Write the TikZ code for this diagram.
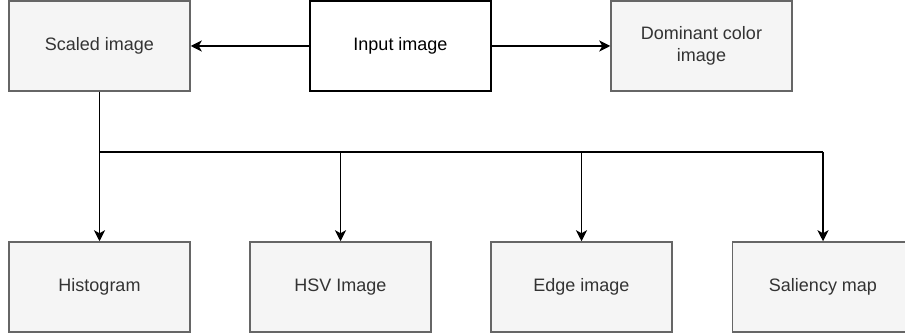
\documentclass[tikz,border=0pt]{standalone}
\usepackage{fontspec}
\setmainfont{Liberation Sans}
\usetikzlibrary{arrows.meta}
\definecolor{boxfill}{HTML}{F5F5F5}
\definecolor{boxline}{HTML}{666666}
\definecolor{boxtext}{HTML}{333333}
\begin{document}
\begin{tikzpicture}[x=1pt,y=-1pt,
  graybox/.style={draw=boxline,fill=boxfill,line width=1.5pt,minimum width=181pt,minimum height=90pt,inner sep=0pt,text=boxtext,font=\fontsize{18}{21.5}\selectfont,align=center},
  whitebox/.style={draw=black,fill=white,line width=1.5pt,minimum width=181pt,minimum height=90pt,inner sep=0pt,text=black,font=\fontsize{18}{21.5}\selectfont,align=center},
  conn/.style={draw=black,line width=1.5pt},
  arr/.style={conn,-{Stealth[length=11pt,width=11pt,inset=3pt]}}]
\useasboundingbox (0,0) rectangle (905,336);
\node[graybox] (scaled) at (99.5,46) {Scaled image};
\node[whitebox] (input) at (400.5,46) {Input image};
\node[graybox] (dom) at (701.5,46) {Dominant color\\image};
\node[graybox] (hist) at (99.5,287) {Histogram};
\node[graybox] (hsv) at (340.5,287) {HSV Image};
\node[graybox] (edge) at (581.5,287) {Edge image};
\node[graybox] (sal) at (823,287) {Saliency map};
\coordinate (j) at (99.5,152);
\draw[arr] (input) -- (scaled);
\draw[arr] (input) -- (dom);
\draw[conn] (scaled.south) -- (j) -- (j -| sal.north);
\draw[arr] (scaled.south) -- (hist.north);
\draw[arr] (j -| hsv.north) -- (hsv.north);
\draw[arr] (j -| edge.north) -- (edge.north);
\draw[arr] (j -| sal.north) -- (sal.north);
\end{tikzpicture}
\end{document}
